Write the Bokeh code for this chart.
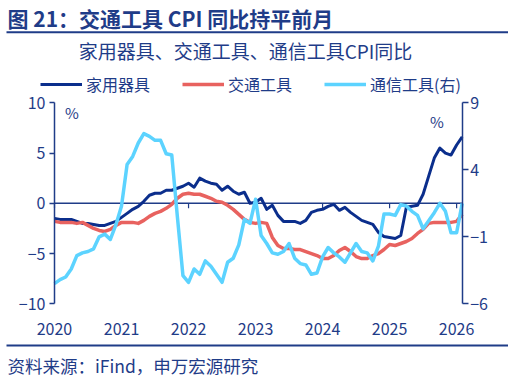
from bokeh.plotting import figure
from bokeh.models import (Range1d, LinearAxis, FixedTicker, Label, Legend,
                          LegendItem, BoxAnnotation)
from bokeh.embed import file_html
from bokeh.resources import INLINE

# ---------------- data (monthly, Jan 2020 .. Feb 2026) ----------------
start_year = 2020
years = [2020, 2021, 2022, 2023, 2024, 2025, 2026]
year_labels = ["2020", "2021", "2022", "2023", "2024", "2025", "2026"]
left_ticks = [-10, -5, 0, 5, 10]
right_ticks = [-6, -1, 4, 9]
left_lim = (-10, 10)
right_lim = (-6, 9)

appliances = [  # 家用器具 (left axis, %)
    -1.5, -1.6, -1.6, -1.6, -1.8, -2.0, -2.0, -2.1, -2.2, -2.2, -2.0, -1.8,
    -1.4, -1.0, -0.6, -0.3, 0.2, 0.8, 1.0, 1.0, 1.3, 1.3, 1.5, 1.7,
    2.0, 1.6, 2.5, 2.2, 2.0, 1.9, 1.3, 1.7, 1.2, 0.9, 1.1, 0.0,
    0.1, 0.5, -0.6, -0.2, -1.2, -1.8, -1.8, -1.8, -2.0, -1.7, -0.9, -0.7,
    -0.6, -0.3, -0.1, -0.7, -0.4, -0.9, -1.3, -1.7, -1.9, -2.1, -2.9, -3.3,
    -3.4, -3.5, -3.2, -0.4, -0.3, -0.2, 0.9, 2.7, 4.5, 5.5, 5.0, 4.8,
    5.8, 6.6]

transport = [  # 交通工具 (left axis, %)
    -1.8, -1.9, -1.9, -1.9, -2.0, -1.9, -2.2, -2.5, -2.7, -2.8, -2.6, -2.2,
    -1.9, -1.9, -1.9, -2.0, -1.7, -1.3, -1.0, -0.8, -0.5, -0.1, 0.5, 0.9,
    1.0, 0.9, 0.9, 0.7, 0.5, 0.2, 0.1, -0.2, -0.6, -1.1, -1.6, -1.9,
    -2.0, -1.9, -2.0, -3.4, -4.2, -4.5, -4.5, -4.6, -4.6, -4.8, -5.0, -5.2,
    -5.5, -5.5, -5.2, -4.7, -4.4, -4.8, -5.3, -5.5, -5.5, -5.2, -5.0, -4.6,
    -4.1, -4.2, -4.0, -3.8, -3.5, -3.0, -2.6, -2.0, -1.9, -1.9, -1.9, -1.9,
    -1.8, -1.1]

telecom = [  # 通信工具 (right axis, %)
    -4.5, -4.2, -4.0, -3.4, -2.4, -2.2, -2.1, -1.9, -1.0, -0.8, -1.2, -0.1,
    1.3, 4.4, 5.0, 6.0, 6.7, 6.5, 6.2, 6.2, 5.2, 5.1, 0.5, -3.9,
    -4.4, -3.4, -3.8, -2.8, -3.2, -3.8, -4.4, -2.9, -2.6, -1.6, 0.3, 0.0,
    1.8, -0.9, -1.5, -2.2, -2.3, -2.1, -1.5, -2.6, -3.0, -3.1, -3.8, -3.7,
    -2.5, -1.8, -2.2, -2.5, -2.9, -2.2, -1.5, -2.1, -2.2, -2.8, -1.7, 0.7,
    0.7, 0.6, 1.4, 1.3, 0.9, 0.6, -0.4, 0.2, 0.8, 1.5, 0.9, -0.7,
    -0.7, 1.5]

x = [start_year + i / 12 for i in range(len(appliances))]

# ---------------- layout / style ----------------
W, H = 508, 378
PL, PR, PT, PB = 54.0, 461.7, 102.3, 303.3   # plot box in page pixels

TEXT = "#1F3C88"
NAVY = "#0B2E8C"
RED = "#E8625F"
CYAN = "#5CD3FF"
FONT = "Noto Sans CJK SC"

xs = (PR - PL) / (x[-1] - x[0])
ys = (PB - PT) / (left_lim[1] - left_lim[0])
rs = (PB - PT) / (right_lim[1] - right_lim[0])

p = figure(width=W, height=H, output_backend="svg", toolbar_location=None,
           x_range=Range1d(x[0] - PL / xs, x[-1] + (W - PR) / xs),
           y_range=Range1d(left_lim[0] - (H - PB) / ys, left_lim[1] + PT / ys),
           min_border=0, outline_line_color=None)
p.grid.visible = False
p.extra_y_ranges = {"right": Range1d(right_lim[0] - (H - PB) / rs,
                                     right_lim[1] + PT / rs)}

# left axis
la = p.yaxis[0]
la.fixed_location = x[0]
la.bounds = left_lim
la.ticker = FixedTicker(ticks=left_ticks)
la.axis_line_color = TEXT
la.axis_line_width = 1.5
la.major_tick_line_color = TEXT
la.major_tick_line_width = 1.5
la.major_tick_in = 0
la.major_tick_out = 5
la.minor_tick_line_color = None
la.major_label_standoff = 4
la.major_label_text_font = FONT
la.major_label_text_font_size = "16px"
la.major_label_text_color = TEXT

# right axis
ra = LinearAxis(y_range_name="right", ticker=FixedTicker(ticks=right_ticks),
                fixed_location=x[-1], bounds=right_lim)
ra.axis_line_color = TEXT
ra.axis_line_width = 1.5
ra.major_tick_line_color = TEXT
ra.major_tick_line_width = 1.5
ra.major_tick_in = 0
ra.major_tick_out = 6
ra.minor_tick_line_color = None
ra.major_label_standoff = 2
ra.major_label_text_font = FONT
ra.major_label_text_font_size = "16px"
ra.major_label_text_color = TEXT
p.add_layout(ra, "right")

# bottom axis (labels only)
xa = p.xaxis[0]
xa.fixed_location = left_lim[0]
xa.ticker = FixedTicker(ticks=years)
xa.major_label_overrides = {y: s for y, s in zip(years, year_labels)}
xa.axis_line_color = None
xa.major_tick_line_color = None
xa.minor_tick_line_color = None
xa.major_label_standoff = 13
xa.major_label_text_font = FONT
xa.major_label_text_font_size = "16px"
xa.major_label_text_color = TEXT

# zero line with small year ticks
p.segment(x0=[x[0]], x1=[x[-1]], y0=[0], y1=[0], line_color=TEXT, line_width=1.5)
p.segment(x0=years, x1=years, y0=[0] * len(years), y1=[-0.5] * len(years),
          line_color=TEXT, line_width=1.2)

# series
r1 = p.line(x, appliances, line_color=NAVY, line_width=3, line_join="round")
r2 = p.line(x, transport, line_color=RED, line_width=3.5, line_join="round")
r3 = p.line(x, telecom, line_color=CYAN, line_width=3.5, line_join="round",
            y_range_name="right")

legend = Legend(items=[LegendItem(label="家用器具", renderers=[r1]),
                       LegendItem(label="交通工具", renderers=[r2]),
                       LegendItem(label="通信工具(右)", renderers=[r3])],
                orientation="horizontal", location=(40, 282),
                border_line_color=None, background_fill_alpha=0,
                padding=0, margin=0, spacing=32, glyph_width=42,
                glyph_height=16, label_standoff=4,
                label_text_font=FONT, label_text_font_size="16px",
                label_text_color=TEXT)
p.add_layout(legend)


def scr_label(px, py, text, size, align="left", bold=False):
    return Label(x=px, y=H - py, x_units="screen", y_units="screen", text=text,
                 text_font=FONT, text_font_size=size, text_color=TEXT,
                 text_font_style="bold" if bold else "normal",
                 text_align=align, text_baseline="middle")


def scr_rule(py_top, py_bottom):
    return BoxAnnotation(left=6, right=W, top=H - py_top, bottom=H - py_bottom,
                         left_units="screen", right_units="screen",
                         top_units="screen", bottom_units="screen",
                         fill_color=TEXT, fill_alpha=1, line_color=None)


p.add_layout(scr_label(7, 17.5, "图 21：交通工具 CPI 同比持平前月", "21px", bold=True))
p.add_layout(scr_rule(30.8, 32.8))
p.add_layout(scr_label(245, 50, "家用器具、交通工具、通信工具CPI同比", "19px", align="center"))
p.add_layout(scr_label(71.5, 112, "%", "15px", align="center"))
p.add_layout(scr_label(436.5, 120.5, "%", "15px", align="center"))
p.add_layout(scr_rule(344, 346))
p.add_layout(scr_label(7, 365, "资料来源：iFind，申万宏源研究", "17.5px"))

open("out.html", "w").write(file_html(p, INLINE))
